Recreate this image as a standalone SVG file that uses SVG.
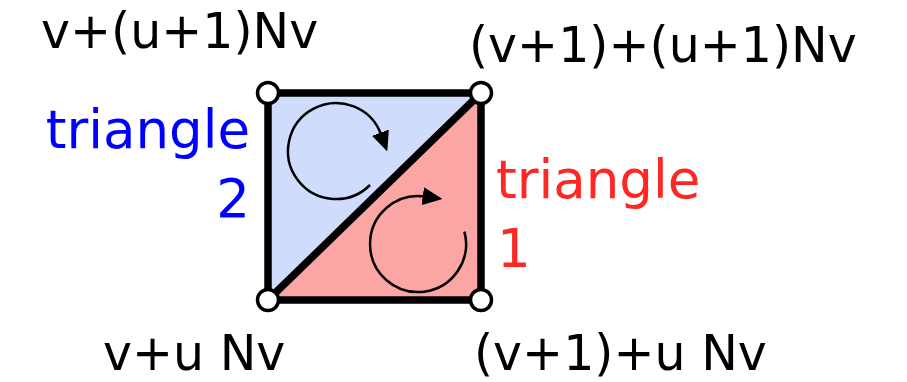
<svg xmlns="http://www.w3.org/2000/svg" width="907" height="382" viewBox="0 0 907 382">
<style>
.lbl{font-family:"DejaVu Sans",Verdana,sans-serif;font-size:49px;fill:#000}
.tri{font-family:"DejaVu Sans",Verdana,sans-serif;font-size:53px}
.edge{stroke:#000;stroke-width:7.5;fill:none;stroke-linecap:round}
.vtx{fill:#fff;stroke:#000;stroke-width:3.5}
.rot{fill:none;stroke:#000;stroke-width:2.5}
</style>
<defs>
<marker id="ah" viewBox="0 0 20 18" refX="2" refY="9" markerWidth="20" markerHeight="18" markerUnits="userSpaceOnUse" orient="auto">
<path d="M0,0 L20,9 L0,18 z" fill="#000"/>
</marker>
</defs>
<g id="tri2">
<polygon points="268,93 481,93 268,300" fill="#cfdcfb"/>
</g>
<g id="tri1">
<polygon points="481,93 481,300 268,300" fill="#fca5a5"/>
</g>
<g id="connectors">
<path class="edge" d="M268,93 H481 V300 H268 Z"/>
<path class="edge" d="M268,300 L481,93"/>
<path class="rot" d="M370,185 A48,48 0 1 1 381.1,134.6" marker-end="url(#ah)"/>
<path class="rot" d="M464.4,231.6 A48,48 0 1 1 424.7,196.5" marker-end="url(#ah)"/>
</g>
<g id="v00"><circle class="vtx" cx="268" cy="300" r="10.5"/></g>
<g id="v10"><circle class="vtx" cx="481" cy="300" r="10.5"/></g>
<g id="v01"><circle class="vtx" cx="268" cy="93" r="10.5"/></g>
<g id="v11"><circle class="vtx" cx="481" cy="93" r="10.5"/></g>
<g id="labels">
<text class="lbl" x="41" y="48">v+(u+1)Nv</text>
<text class="lbl" x="469" y="62">(v+1)+(u+1)Nv</text>
<text class="lbl" x="103" y="370">v+u Nv</text>
<text class="lbl" x="474" y="370">(v+1)+u Nv</text>
<text class="tri" x="250" y="148" text-anchor="end" fill="#0000ff">triangle</text>
<text class="tri" x="250" y="217" text-anchor="end" fill="#0000ff">2</text>
<text class="tri" x="496" y="198" fill="#ff2626">triangle</text>
<text class="tri" x="497" y="267" fill="#ff2626">1</text>
</g>
</svg>
